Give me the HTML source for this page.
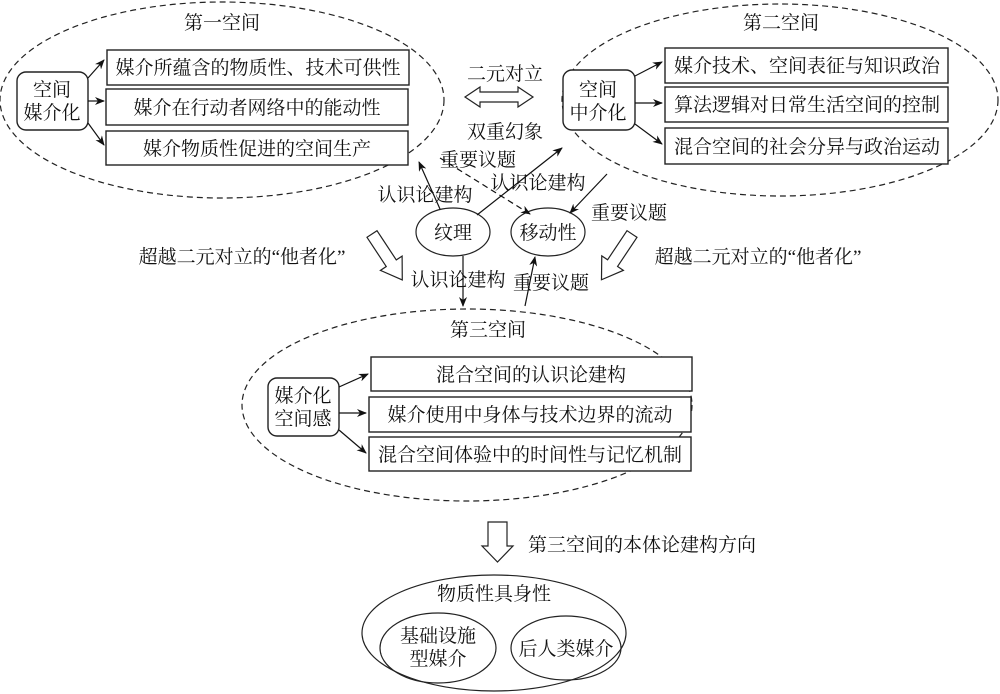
<!DOCTYPE html>
<html><head><meta charset="utf-8"><style>
html,body{margin:0;padding:0;background:#fff;}
svg{display:block;}
text{font-family:"Liberation Serif","Noto Serif CJK SC",serif;font-size:19px;fill:#111;}
</style></head><body>
<svg width="1000" height="694" viewBox="0 0 1000 694" xmlns="http://www.w3.org/2000/svg">
<defs>
<marker id="ah" markerWidth="10" markerHeight="8" refX="9" refY="4" orient="auto" markerUnits="userSpaceOnUse">
<path d="M0,0 L10,4 L0,8 L3,4 Z" fill="#111"/></marker>
</defs>
<g fill="none" stroke="#222" stroke-width="1.2">
<ellipse cx="222" cy="100" rx="222" ry="98" stroke-dasharray="6,4"/>
<ellipse cx="780" cy="100" rx="218" ry="96" stroke-dasharray="6,4"/>
<ellipse cx="467" cy="405" rx="225" ry="96" stroke-dasharray="6,4"/>
<ellipse cx="494" cy="633" rx="132" ry="58"/>
<ellipse cx="438" cy="648" rx="58" ry="35"/>
<ellipse cx="566" cy="648" rx="55" ry="32"/>
<ellipse cx="453" cy="232" rx="37" ry="24" fill="#fff"/>
<ellipse cx="548" cy="232" rx="37" ry="24" fill="#fff"/>
</g>
<g fill="#fff" stroke="#222" stroke-width="1.4">
<rect x="17" y="72" width="71" height="58" rx="9"/>
<rect x="107" y="50" width="302" height="35"/>
<rect x="106" y="89" width="302" height="36"/>
<rect x="106" y="131" width="302" height="34"/>
<rect x="563" y="70" width="72" height="60" rx="9"/>
<rect x="665" y="48" width="283" height="35"/>
<rect x="665" y="87" width="283" height="35"/>
<rect x="665" y="128" width="283" height="36"/>
<rect x="268" y="378" width="71" height="58" rx="9"/>
<rect x="371" y="357" width="321" height="34"/>
<rect x="369" y="397" width="322" height="35"/>
<rect x="369" y="437" width="322" height="34"/>
</g>
<g fill="#fff" stroke="#222" stroke-width="1.2">
<polygon points="465,97 480,87 480,92 518,92 518,87 533,97 518,107 518,102 480,102 480,107"/>
<polygon points="0,-6 35,-6 35,-13 55,0 35,13 35,6 0,6" transform="translate(372,234) rotate(56.6)"/>
<polygon points="0,-6 35,-6 35,-13 55,0 35,13 35,6 0,6" transform="translate(632,234) rotate(123.7)"/>
<polygon points="488,522 507,522 507,546 513,546 497.5,562 482,546 488,546"/>
</g>
<g stroke="#111" stroke-width="1.2" fill="none">
<line x1="88" y1="78" x2="104" y2="60" marker-end="url(#ah)"/>
<line x1="88" y1="101" x2="104" y2="101" marker-end="url(#ah)"/>
<line x1="88" y1="123" x2="104" y2="145" marker-end="url(#ah)"/>
<line x1="635" y1="76" x2="662" y2="62" marker-end="url(#ah)"/>
<line x1="635" y1="103" x2="662" y2="103" marker-end="url(#ah)"/>
<line x1="635" y1="124" x2="662" y2="144" marker-end="url(#ah)"/>
<line x1="339" y1="387" x2="368" y2="374" marker-end="url(#ah)"/>
<line x1="339" y1="413" x2="366" y2="413" marker-end="url(#ah)"/>
<line x1="339" y1="430" x2="366" y2="453" marker-end="url(#ah)"/>
<line x1="440" y1="209" x2="419" y2="162" marker-end="url(#ah)"/>
<line x1="477" y1="215" x2="562" y2="148" marker-end="url(#ah)"/>
<line x1="440" y1="158" x2="530" y2="214" stroke-dasharray="6,4" marker-end="url(#ah)"/>
<line x1="607" y1="174" x2="570" y2="213" marker-end="url(#ah)"/>
<line x1="463" y1="256" x2="463" y2="306" marker-end="url(#ah)"/>
<line x1="525" y1="306" x2="535" y2="257" marker-end="url(#ah)"/>
</g>
<g text-anchor="middle">
<text x="222" y="29">第一空间</text>
<text x="781" y="29">第二空间</text>
<text x="488" y="336">第三空间</text>
<text x="52" y="96">空间</text>
<text x="52" y="119">媒介化</text>
<text x="598" y="96">空间</text>
<text x="598" y="119">中介化</text>
<text x="303" y="402">媒介化</text>
<text x="303" y="425">空间感</text>
<text x="258" y="74">媒介所蕴含的物质性、技术可供性</text>
<text x="257" y="114">媒介在行动者网络中的能动性</text>
<text x="257" y="155">媒介物质性促进的空间生产</text>
<text x="807" y="72">媒介技术、空间表征与知识政治</text>
<text x="807" y="111">算法逻辑对日常生活空间的控制</text>
<text x="807" y="153">混合空间的社会分异与政治运动</text>
<text x="531" y="381">混合空间的认识论建构</text>
<text x="530" y="421">媒介使用中身体与技术边界的流动</text>
<text x="530" y="461">混合空间体验中的时间性与记忆机制</text>
<text x="505" y="80">二元对立</text>
<text x="505" y="138">双重幻象</text>
<text x="478" y="166">重要议题</text>
<text x="538" y="189">认识论建构</text>
<text x="425" y="201">认识论建构</text>
<text x="629" y="219">重要议题</text>
<text x="453" y="239">纹理</text>
<text x="548" y="239">移动性</text>
<text x="458" y="286">认识论建构</text>
<text x="551" y="289">重要议题</text>
<text x="242" y="263">超越二元对立的“他者化”</text>
<text x="758" y="263">超越二元对立的“他者化”</text>
<text x="494" y="600">物质性具身性</text>
<text x="438" y="642">基础设施</text>
<text x="438" y="665">型媒介</text>
<text x="566" y="655">后人类媒介</text>
</g>
<text x="528" y="551">第三空间的本体论建构方向</text>
</svg>
</body></html>
